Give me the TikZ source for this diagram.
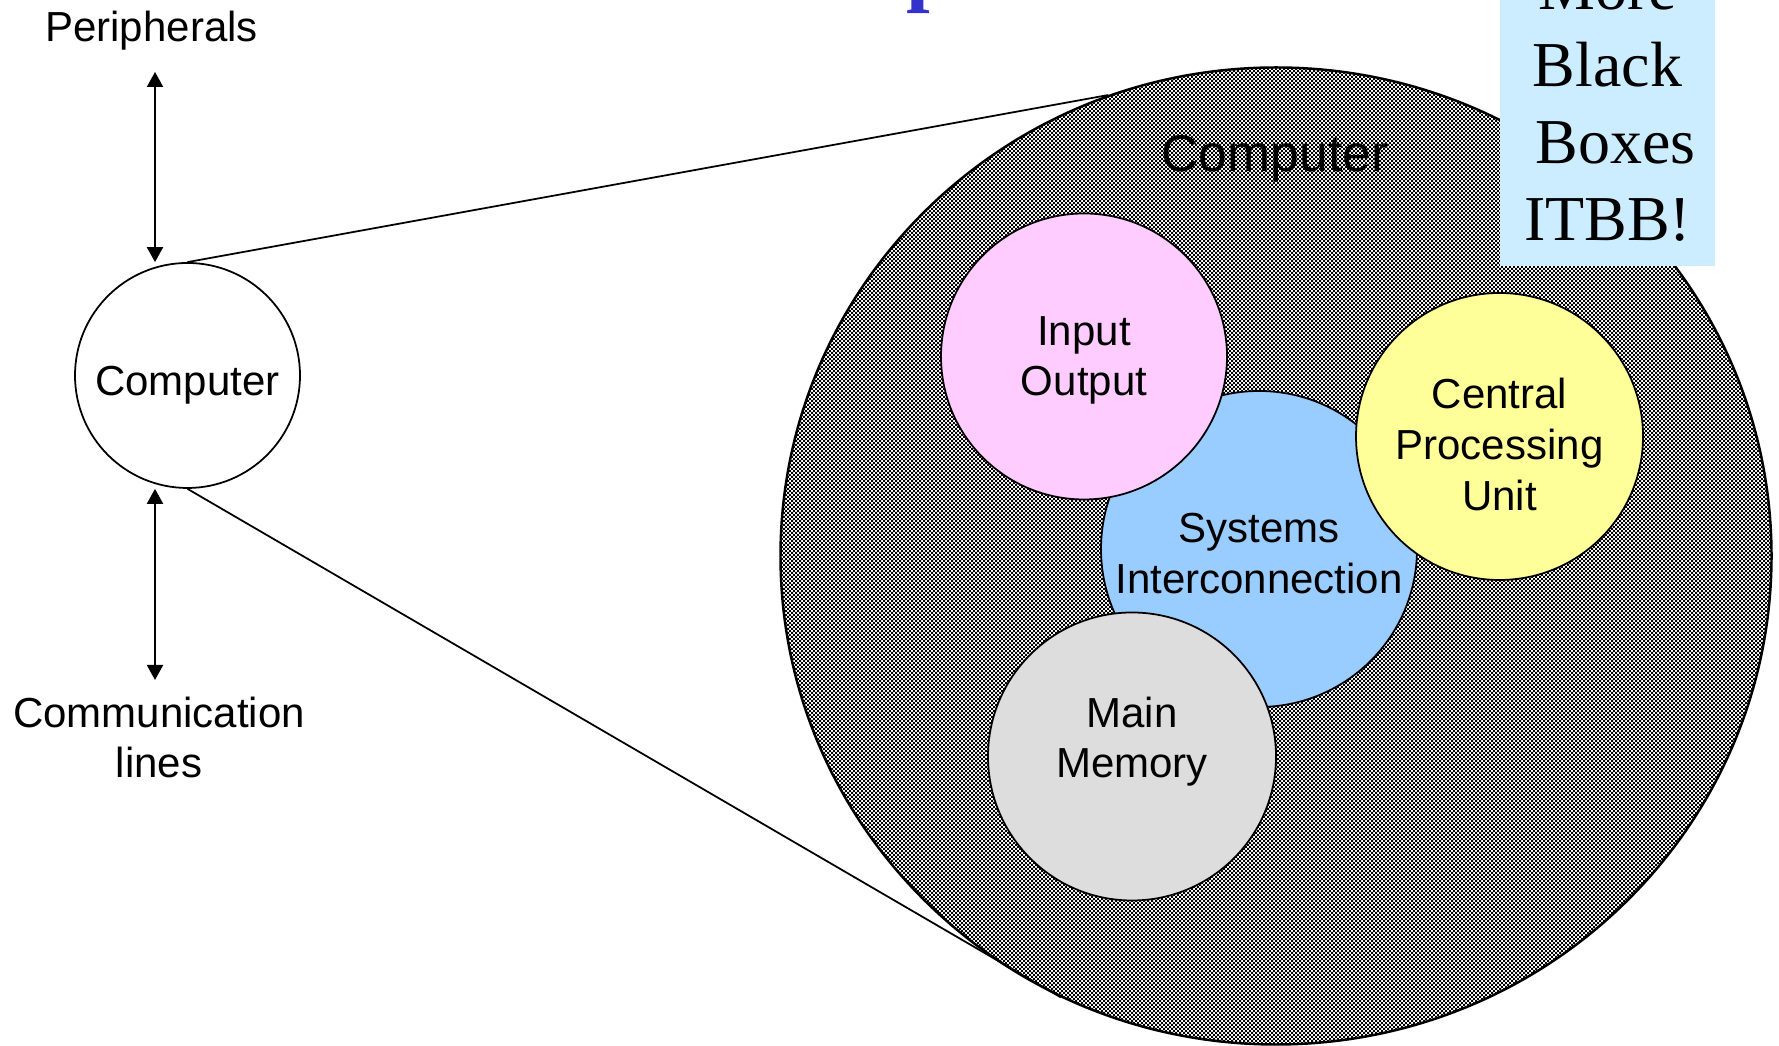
\documentclass[tikz,border=0pt]{standalone}
\usepackage{fontspec}
\setmainfont{Liberation Sans}
\newfontfamily\seriffont{Liberation Serif}
\usetikzlibrary{arrows.meta,shapes.geometric,patterns.meta}

\definecolor{iopink}{RGB}{255,204,255}
\definecolor{sysblue}{RGB}{153,204,255}
\definecolor{cpuyellow}{RGB}{255,255,153}
\definecolor{memgray}{RGB}{221,221,221}
\definecolor{notebox}{RGB}{204,236,255}
\definecolor{titleblue}{RGB}{51,51,204}

\tikzdeclarepattern{
  name=finecheck,
  type=uncolored,
  bottom left={(0cm,0cm)},
  top right={(0.04cm,0.04cm)},
  tile size={(0.04cm,0.04cm)},
  code={
    \fill (0cm,0cm) rectangle (0.02cm,0.02cm);
    \fill (0.02cm,0.02cm) rectangle (0.04cm,0.04cm);
  }
}

\tikzset{
  txt/.style={font=\fontsize{11.95pt}{14.4pt}\selectfont, align=center, inner sep=0pt},
  unit/.style={circle, draw=black, line width=0.5pt, inner sep=0pt},
  dbl/.style={{Triangle[length=0.15cm,width=0.16cm]}-{Triangle[length=0.15cm,width=0.16cm]}, line width=0.6pt},
}

\begin{document}
\begin{tikzpicture}
  \useasboundingbox (0,0) rectangle (17.79,10.46);
  % title remnant
  \node[anchor=base west, inner sep=0pt, text=titleblue,
    font=\seriffont\bfseries\fontsize{24.2pt}{28pt}\selectfont] (ttl) at (9.06,10.505) {p};
  % computer seen from outside (left)
  \node[unit, minimum size=2.25cm,
    label={[txt, yshift=-0.10cm]center:Computer}] (comp) at (1.875,6.705) {};
  \node[txt, anchor=base] (periph) at (1.515,10.04) {Peripherals};
  \node[txt] (commlines) at (1.59,3.085) {Communication\\lines};
  \coordinate (ptop) at (1.55,9.74);
  \coordinate (cbot) at (1.55,3.66);
  \draw[dbl] (ptop) -- (ptop |- comp.north);
  \draw[dbl] (ptop |- comp.south) -- (cbot);
  % computer seen from inside (right)
  \node[ellipse, draw=black, line width=0.7pt, fill=white,
    postaction={pattern=finecheck, pattern color=black},
    minimum width=9.91cm, minimum height=9.77cm, inner sep=0pt] (big) at (12.76,4.90) {};
  \draw[line width=0.5pt] (comp.north) -- (big.110);
  \draw[line width=0.5pt] (comp.south) -- (big.244.6);
  \node[anchor=base, inner sep=0pt, font=\fontsize{14.7pt}{17pt}\selectfont] (bigname) at (12.75,8.74) {Computer};
  % note box
  \node[anchor=south, fill=notebox, inner xsep=0pt, inner ysep=0.25cm, minimum width=2.15cm,
    align=center, font=\seriffont\fontsize{18.2pt}{21.9pt}\selectfont] (itbb) at (16.075,7.79)
    {More\\Black\\~Boxes\\ITBB!};
  % components
  \node[unit, fill=sysblue, minimum size=3.16cm,
    label={[txt, yshift=-0.045cm]center:Systems\\Interconnection}] (sysic) at (12.59,4.97) {};
  \node[unit, fill=iopink, minimum size=2.86cm,
    label={[txt, yshift=-0.04cm]center:Input\\Output}] (inout) at (10.84,6.895) {};
  \node[unit, fill=cpuyellow, minimum size=2.87cm,
    label={[txt, yshift=-0.08cm]center:Central\\Processing\\Unit}] (cpu) at (14.995,6.095) {};
  \node[unit, fill=memgray, minimum size=2.88cm,
    label={[txt, yshift=0.15cm]center:Main\\Memory}] (mainmem) at (11.32,2.895) {};
\end{tikzpicture}
\end{document}
